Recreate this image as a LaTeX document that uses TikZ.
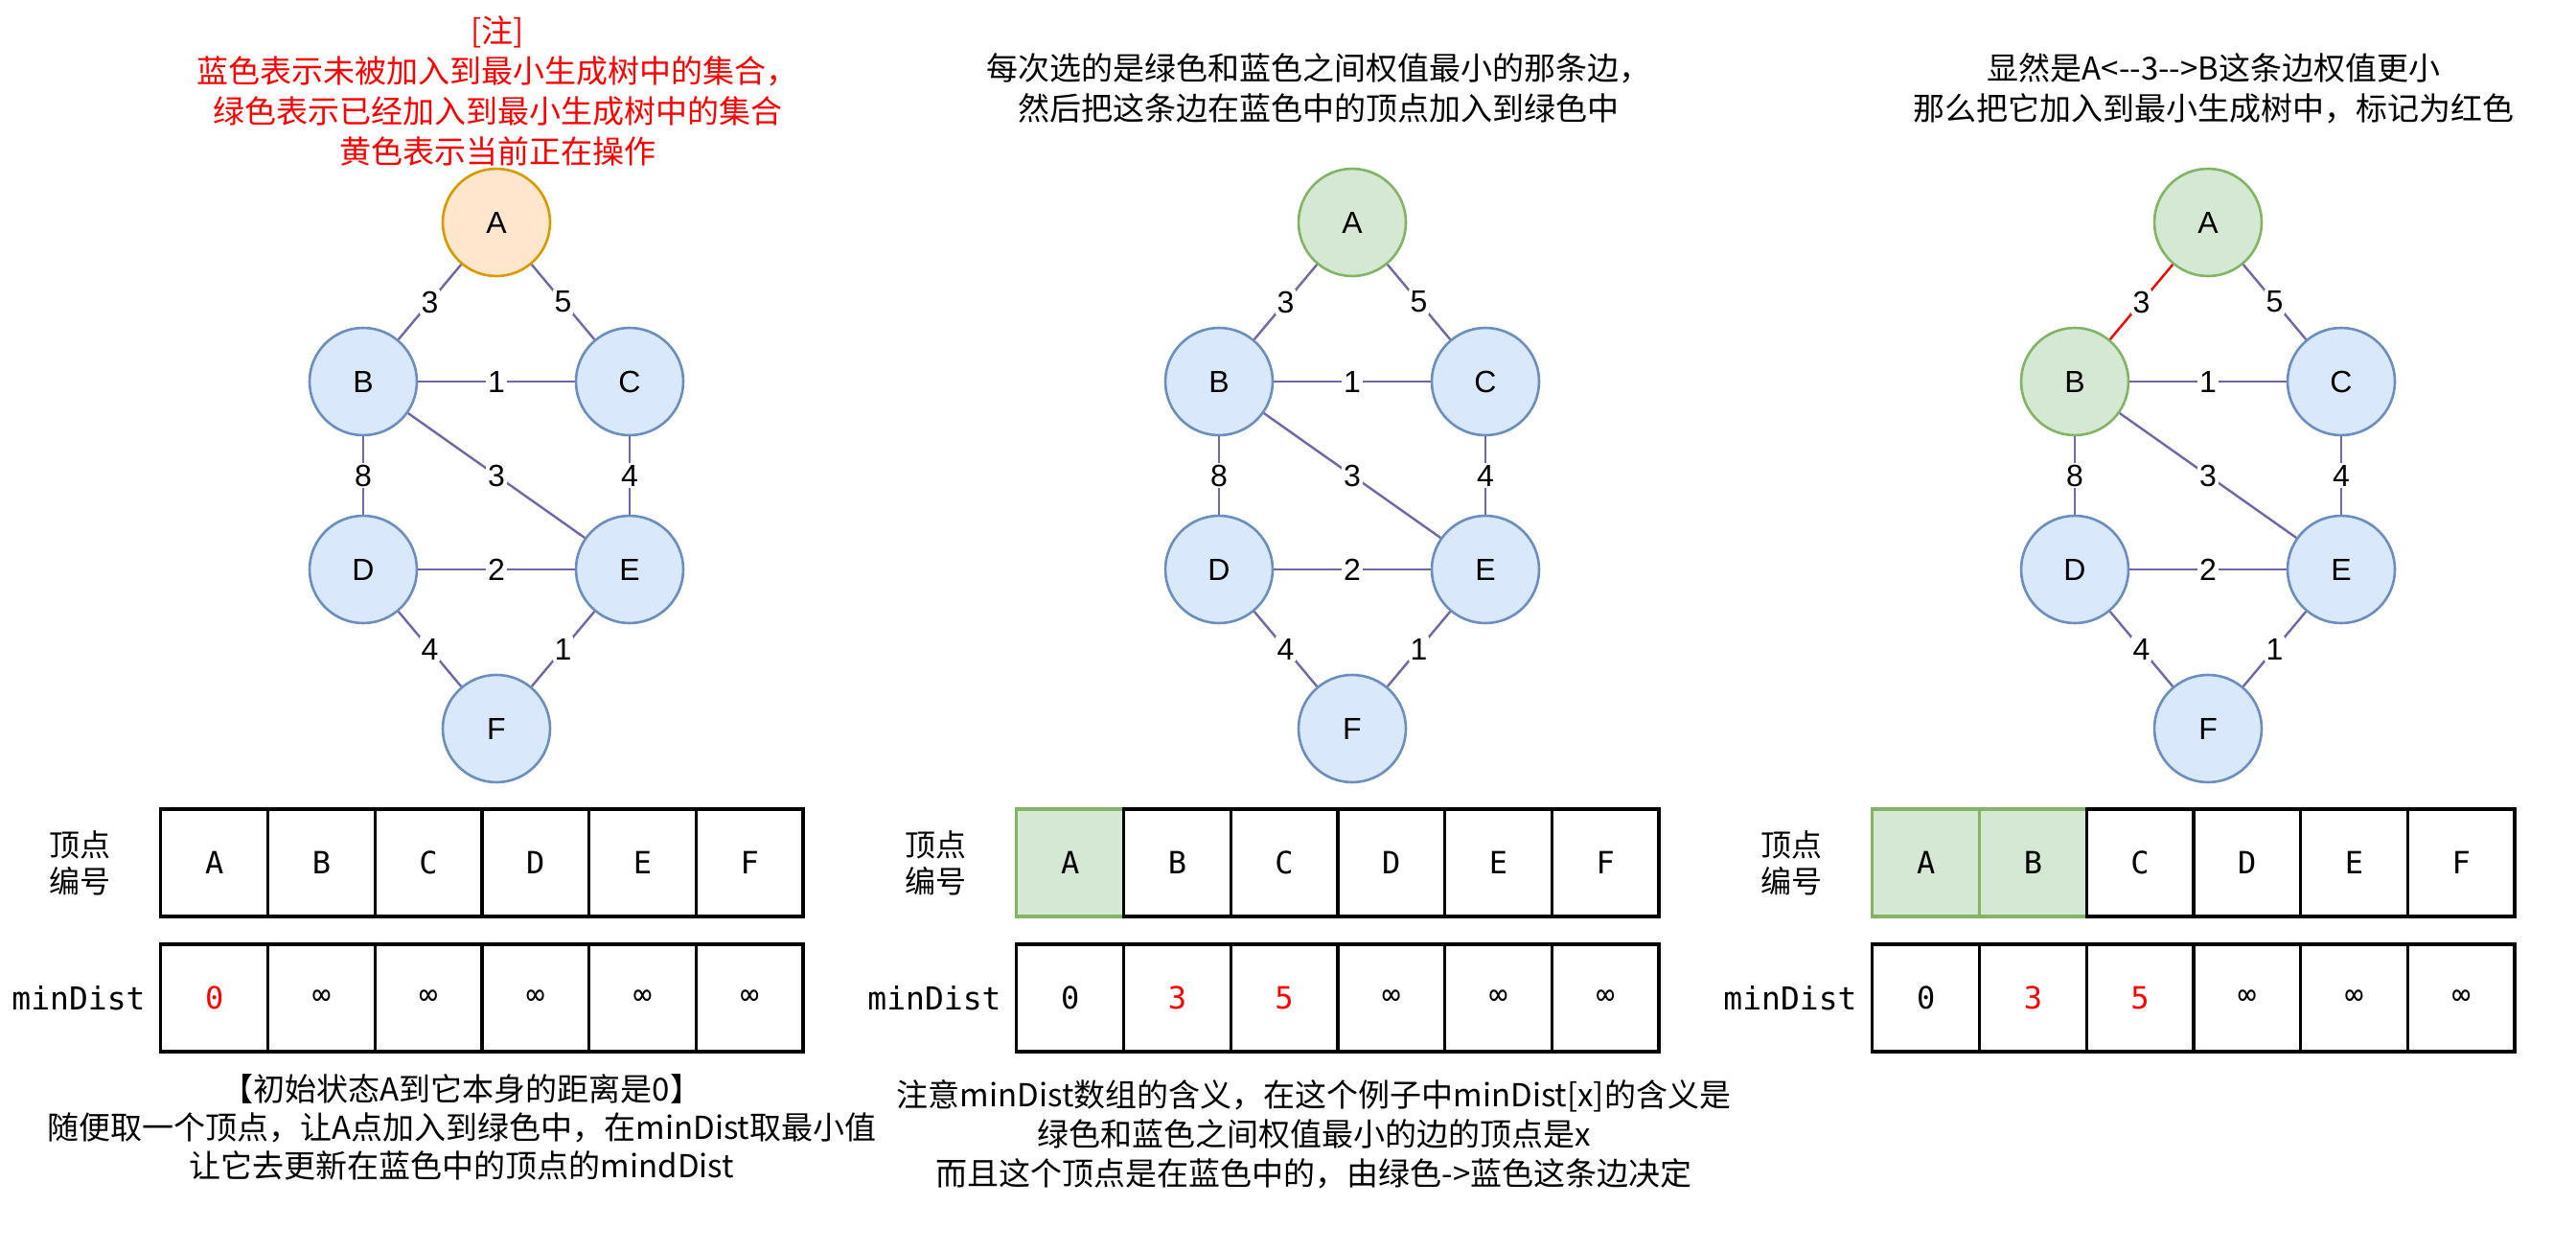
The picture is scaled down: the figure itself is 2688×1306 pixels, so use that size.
\documentclass[tikz,border=0pt]{standalone}
\usepackage{fontspec}
\setmainfont{Liberation Sans}
\newfontfamily\cjk{Noto Sans CJK SC}
\newfontfamily\mono{DejaVu Sans Mono}
\usetikzlibrary{calc}
\definecolor{bufill}{HTML}{DAE8FC}
\definecolor{buline}{HTML}{6C8EBF}
\definecolor{grfill}{HTML}{D5E8D4}
\definecolor{grline}{HTML}{82B366}
\definecolor{orfill}{HTML}{FFE6CC}
\definecolor{orline}{HTML}{D79B00}
\definecolor{edgecol}{HTML}{7067A8}

\begin{document}
\begin{tikzpicture}[x=0.5pt,y=-0.5pt,
  vtx/.style={circle,line width=1.3pt,minimum size=56pt,inner sep=0pt,font=\fontsize{16}{16}\selectfont},
  edge/.style={line width=1.2pt,draw=edgecol},
  wlab/.style={fill=white,inner sep=1pt,font=\fontsize{16}{16}\selectfont},
  cell/.style={draw,line width=1.6pt,minimum width=55.85pt,minimum height=56pt,inner sep=0pt,font=\mono\fontsize{16}{16}\selectfont},
  note/.style={align=center,font=\cjk\fontsize{16.5}{21}\selectfont},
  lab/.style={align=center,font=\cjk\fontsize{16}{19}\selectfont}]
  \path[use as bounding box,fill=white] (0,0) rectangle (2688,1306);
  % three steps side by side
  \foreach \dx/\p/\ng/\fa/\da/\fb/\db/\cab in {0/l/0/orfill/orline/bufill/buline/edgecol,
      893/m/1/grfill/grline/bufill/buline/edgecol, 1786/r/2/grfill/grline/grfill/grline/red}{
    \node[vtx,fill=\fa,draw=\da] (\p A) at (518+\dx,232) {A};
    \node[vtx,fill=\fb,draw=\db] (\p B) at (379+\dx,398) {B};
    \node[vtx,fill=bufill,draw=buline] (\p C) at (657+\dx,398) {C};
    \node[vtx,fill=bufill,draw=buline] (\p D) at (379+\dx,594) {D};
    \node[vtx,fill=bufill,draw=buline] (\p E) at (657+\dx,594) {E};
    \node[vtx,fill=bufill,draw=buline] (\p F) at (518+\dx,760) {F};
    \draw[edge,draw=\cab] (\p A) -- node[wlab]{3} (\p B);
    \foreach \a/\b/\w in {A/C/5,B/C/1,B/D/8,B/E/3,C/E/4,D/E/2,D/F/4,E/F/1}
      \draw[edge] (\p\a) -- node[wlab]{\w} (\p\b);
    % index row
    \node[lab] (\p idx) at (83+\dx,900) {顶点\\编号};
    \node[font=\mono\fontsize{16.5}{16.5}\selectfont] (\p md) at (82+\dx,1041) {minDist};
    \foreach \v [count=\i] in {A,B,C,D,E,F}{
      \ifnum\i>\ng \def\cf{white}\def\cd{black}\else\def\cf{grfill}\def\cd{grline}\fi
      \node[cell,fill=\cf,draw=\cd] (\p n\i) at (111.7*\i+112+\dx,900) {\v};
    }
  }
  % minDist rows
  \foreach \v/\c [count=\i] in {0/red,∞/black,∞/black,∞/black,∞/black,∞/black}
    \node[cell,text=\c] (ld\i) at (111.7*\i+112,1041) {\v};
  \foreach \dx/\p in {893/m,1786/r}
    \foreach \v/\c [count=\i] in {0/black,3/red,5/red,∞/black,∞/black,∞/black}
      \node[cell,text=\c] (\p d\i) at (111.7*\i+112+\dx,1041) {\v};
  % notes
  \node[note,text=red] (lnote) at (519,95) {[注]\\蓝色表示未被加入到最小生成树中的集合，\\绿色表示已经加入到最小生成树中的集合\\黄色表示当前正在操作};
  \node[note] (mnote) at (1376,92) {每次选的是绿色和蓝色之间权值最小的那条边，\\然后把这条边在蓝色中的顶点加入到绿色中};
  \node[note] (rnote) at (2310,92) {显然是A<-{}-3-{}->B这条边权值更小\\那么把它加入到最小生成树中，标记为红色};
  \node[note,font=\cjk\fontsize{16.5}{20}\selectfont] (lbot) at (482,1176) {【初始状态A到它本身的距离是0】\\随便取一个顶点，让A点加入到绿色中，在minDist取最小值\\让它去更新在蓝色中的顶点的mindDist};
  \node[note,font=\cjk\fontsize{16.5}{20.5}\selectfont] (mbot) at (1371,1183) {注意minDist数组的含义，在这个例子中minDist[x]的含义是\\绿色和蓝色之间权值最小的边的顶点是x\\而且这个顶点是在蓝色中的，由绿色->蓝色这条边决定};
\end{tikzpicture}
\end{document}
